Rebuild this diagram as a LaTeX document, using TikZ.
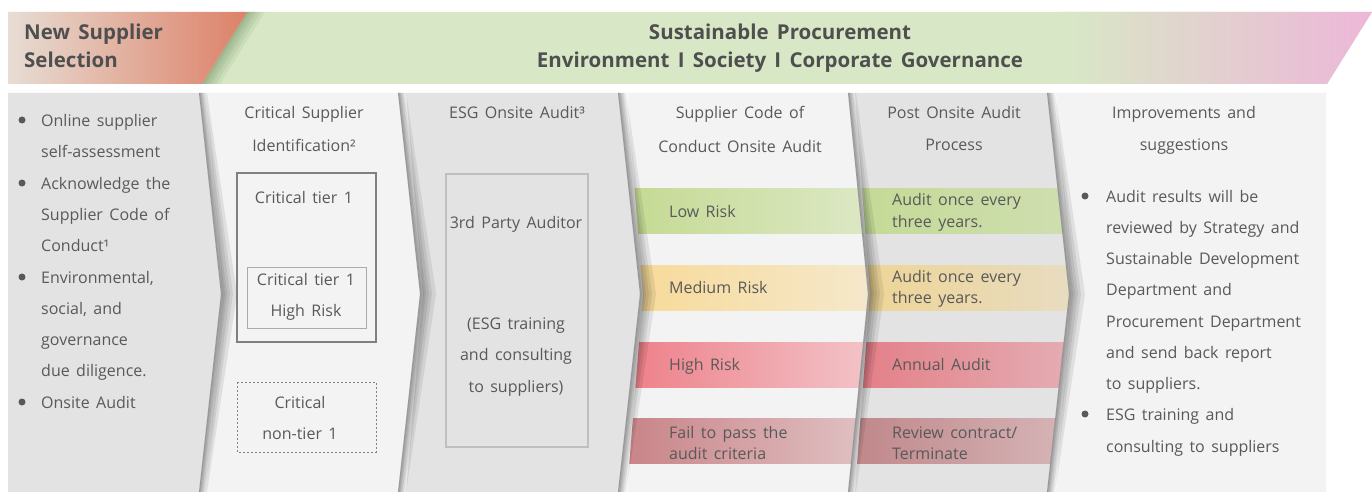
\documentclass[tikz,border=0pt]{standalone}
\usepackage{fontspec}
\setmainfont{Open Sans}[WordSpace=1.55]
\definecolor{txt}{HTML}{595959}
\definecolor{htxt}{HTML}{4F4F4F}
\definecolor{cgray}{HTML}{E3E3E3}
\definecolor{clight}{HTML}{F3F3F3}
\definecolor{hbeige}{HTML}{E7DDD4}
\definecolor{hmid}{HTML}{E3C3A5}
\definecolor{hsalmon}{HTML}{DD8168}
\definecolor{hgreen}{HTML}{D8E8C6}
\definecolor{hpink}{HTML}{EDB7D8}
\definecolor{hshadow}{HTML}{5E8050}
\definecolor{lowA}{HTML}{C5DA93}\definecolor{lowB}{HTML}{DCE8C5}
\definecolor{medA}{HTML}{F7DA98}\definecolor{medB}{HTML}{F5E8CB}
\definecolor{higA}{HTML}{EE7F89}\definecolor{higB}{HTML}{F2C4C8}
\definecolor{faiA}{HTML}{C98488}\definecolor{faiB}{HTML}{E0C2C4}
\definecolor{lowC}{HTML}{C4DA96}\definecolor{lowD}{HTML}{CFDEB0}
\definecolor{medC}{HTML}{EED595}\definecolor{medD}{HTML}{E8DCC0}
\definecolor{higC}{HTML}{E47E87}\definecolor{higD}{HTML}{E4ADB3}
\definecolor{faiC}{HTML}{C0888B}\definecolor{faiD}{HTML}{D6B5B7}
\newcommand\colpath[4]{(#1,93) -- (#3,93) -- (#4,294) -- (#3,492) -- (#1,492) -- (#2,294) -- cycle}
\newcommand\colshade[2]{%
  \foreach \d in {16,12,9,6,4,2}{%
    \fill[black,opacity=0.08] (#1,93) -- (#2,294) -- (#1,492) -- ({#1+0.5*\d},492) -- ({#2+\d},294) -- ({#1+0.5*\d},93) -- cycle;}}
\begin{document}
\begin{tikzpicture}[x=1pt,y=-1pt,
  every node/.style={text=txt,inner sep=0pt,font=\fontsize{16}{20}\selectfont},
  head/.style={text=htxt,font=\fontsize{20.5}{24}\selectfont\bfseries},
  bul/.style={circle,fill=txt,minimum size=7pt,inner sep=0pt},
  lw/.style={anchor=base west},
  lc/.style={anchor=base}]
\useasboundingbox (0,0) rectangle (1372,492);
\fill[white] (0,0) rectangle (1372,492);
% ---------- header ----------
\fill[hgreen] (202,84) -- (247,12) -- (1372,12) -- (1327,84) -- cycle;
\begin{scope}
  \clip (202,84) -- (247,12) -- (1372,12) -- (1327,84) -- cycle;
  \shade[left color=hgreen,right color=hpink] (1060,12) rectangle (1372,84);
  \foreach \d in {18,14,10,7,4,2}
    \fill[hshadow,opacity=0.1] (247,12) -- (202,84) -- ({202+\d},84) -- ({247+\d},12) -- cycle;
\end{scope}
\shade[left color=hbeige,middle color=hmid,right color=hsalmon] (8,12) -- (247,12) -- (202,84) -- (8,84) -- cycle;
\node[head,lw] (h1) at (24,40) {New Supplier};
\node[head,lw] (h2) at (24,68) {Selection};
\node[head,lc] (h3) at (780,40) {Sustainable Procurement};
\node[head,lc] (h4) at (780,68) {Environment I Society I Corporate Governance};
% ---------- columns ----------
\fill[cgray]  \colpath{8}{8}{199}{221};
\fill[clight] \colpath{206}{223}{398}{420};
\fill[cgray]  \colpath{406}{423}{618}{640};
\fill[clight] \colpath{627}{643}{848}{868};
\fill[cgray]  \colpath{855}{870}{1047}{1069};
\fill[clight] \colpath{1056}{1071}{1326}{1326};
% bands in column 4
\begin{scope}
  \clip \colpath{627}{643}{848}{868};
  \shade[left color=lowA,right color=lowB] (627,188) rectangle (870,233);
  \shade[left color=medA,right color=medB] (627,265) rectangle (870,310);
  \shade[left color=higA,right color=higB] (627,342) rectangle (870,387);
  \shade[left color=faiA,right color=faiB] (627,418) rectangle (870,463);
\end{scope}
% bands in column 5
\begin{scope}
  \clip \colpath{855}{870}{1047}{1069};
  \shade[left color=lowC,right color=lowD] (855,188) rectangle (1070,233);
  \shade[left color=medC,right color=medD] (855,265) rectangle (1070,310);
  \shade[left color=higC,right color=higD] (855,342) rectangle (1070,387);
  \shade[left color=faiC,right color=faiD] (855,418) rectangle (1070,463);
\end{scope}
% shadows between columns
\colshade{199}{221}
\colshade{398}{420}
\colshade{618}{640}
\colshade{848}{868}
\colshade{1047}{1069}
% ---------- column 1 ----------
\node[bul] (b1) at (22,120) {};
\node[bul] (b2) at (22,183) {};
\node[bul] (b3) at (22,277) {};
\node[bul] (b4) at (22,402) {};
\node[lw] (c1a) at (41,126) {Online supplier};
\node[lw] (c1b) at (41,157) {self-assessment};
\node[lw] (c1c) at (41,189) {Acknowledge the};
\node[lw] (c1d) at (41,220) {Supplier Code of};
\node[lw] (c1e) at (41,251) {Conduct¹};
\node[lw] (c1f) at (41,283) {Environmental,};
\node[lw] (c1g) at (41,314) {social, and};
\node[lw] (c1h) at (41,345) {governance};
\node[lw] (c1i) at (41,376) {due diligence.};
\node[lw] (c1j) at (41,408) {Onsite Audit};
% ---------- column 2 ----------
\node[lc] (c2a) at (304,119) {Critical Supplier};
\node[lc] (c2b) at (304,151) {Identification²};
\draw[color=black!50,line width=1.2pt] (237,173) rectangle (376,342);
\node[lc] (c2c) at (304,203) {Critical tier 1};
\draw[color=black!33,line width=1pt] (247,267) rectangle (366,328);
\node[lc] (c2d) at (306,285) {Critical tier 1};
\node[lc] (c2e) at (306,316) {High Risk};
\draw[color=black!50,line width=1pt,dash pattern=on 2pt off 2pt] (237,382) rectangle (376,452);
\node[lc] (c2f) at (300,408) {Critical};
\node[lc] (c2g) at (300,439) {non-tier 1};
% ---------- column 3 ----------
\node[lc] (c3a) at (517,119) {ESG Onsite Audit³};
\draw[color=black!25,line width=1.2pt] (446,174) rectangle (588,447);
\node[lc] (c3b) at (516,228) {3rd Party Auditor};
\node[lc] (c3c) at (516,329) {(ESG training};
\node[lc] (c3d) at (516,360) {and consulting};
\node[lc] (c3e) at (516,392) {to suppliers)};
% ---------- column 4 ----------
\node[lc] (c4a) at (740,119) {Supplier Code of};
\node[lc] (c4b) at (740,152) {Conduct Onsite Audit};
\node[lw] (r1) at (669,217) {Low Risk};
\node[lw] (r2) at (669,293) {Medium Risk};
\node[lw] (r3) at (669,370) {High Risk};
\node[lw] (r4a) at (669,438) {Fail to pass the};
\node[lw] (r4b) at (669,459) {audit criteria};
% ---------- column 5 ----------
\node[lc] (c5a) at (954,119) {Post Onsite Audit};
\node[lc] (c5b) at (954,150) {Process};
\node[lw] (p1a) at (892,205) {Audit once every};
\node[lw] (p1b) at (892,227) {three years.};
\node[lw] (p2a) at (892,282) {Audit once every};
\node[lw] (p2b) at (892,303) {three years.};
\node[lw] (p3) at (892,370) {Annual Audit};
\node[lw] (p4a) at (892,438) {Review contract/};
\node[lw] (p4b) at (892,459) {Terminate};
% ---------- column 6 ----------
\node[lc] (c6a) at (1184,119) {Improvements and};
\node[lc] (c6b) at (1184,150) {suggestions};
\node[bul] (b5) at (1085,196) {};
\node[bul] (b6) at (1085,414) {};
\node[lw] (c6c) at (1106,202) {Audit results will be};
\node[lw] (c6d) at (1106,233) {reviewed by Strategy and};
\node[lw] (c6e) at (1106,264) {Sustainable Development};
\node[lw] (c6f) at (1106,295) {Department and};
\node[lw] (c6g) at (1106,327) {Procurement Department};
\node[lw] (c6h) at (1106,358) {and send back report};
\node[lw] (c6i) at (1106,389) {to suppliers.};
\node[lw] (c6j) at (1106,420) {ESG training and};
\node[lw] (c6k) at (1106,452) {consulting to suppliers};
\end{tikzpicture}
\end{document}
